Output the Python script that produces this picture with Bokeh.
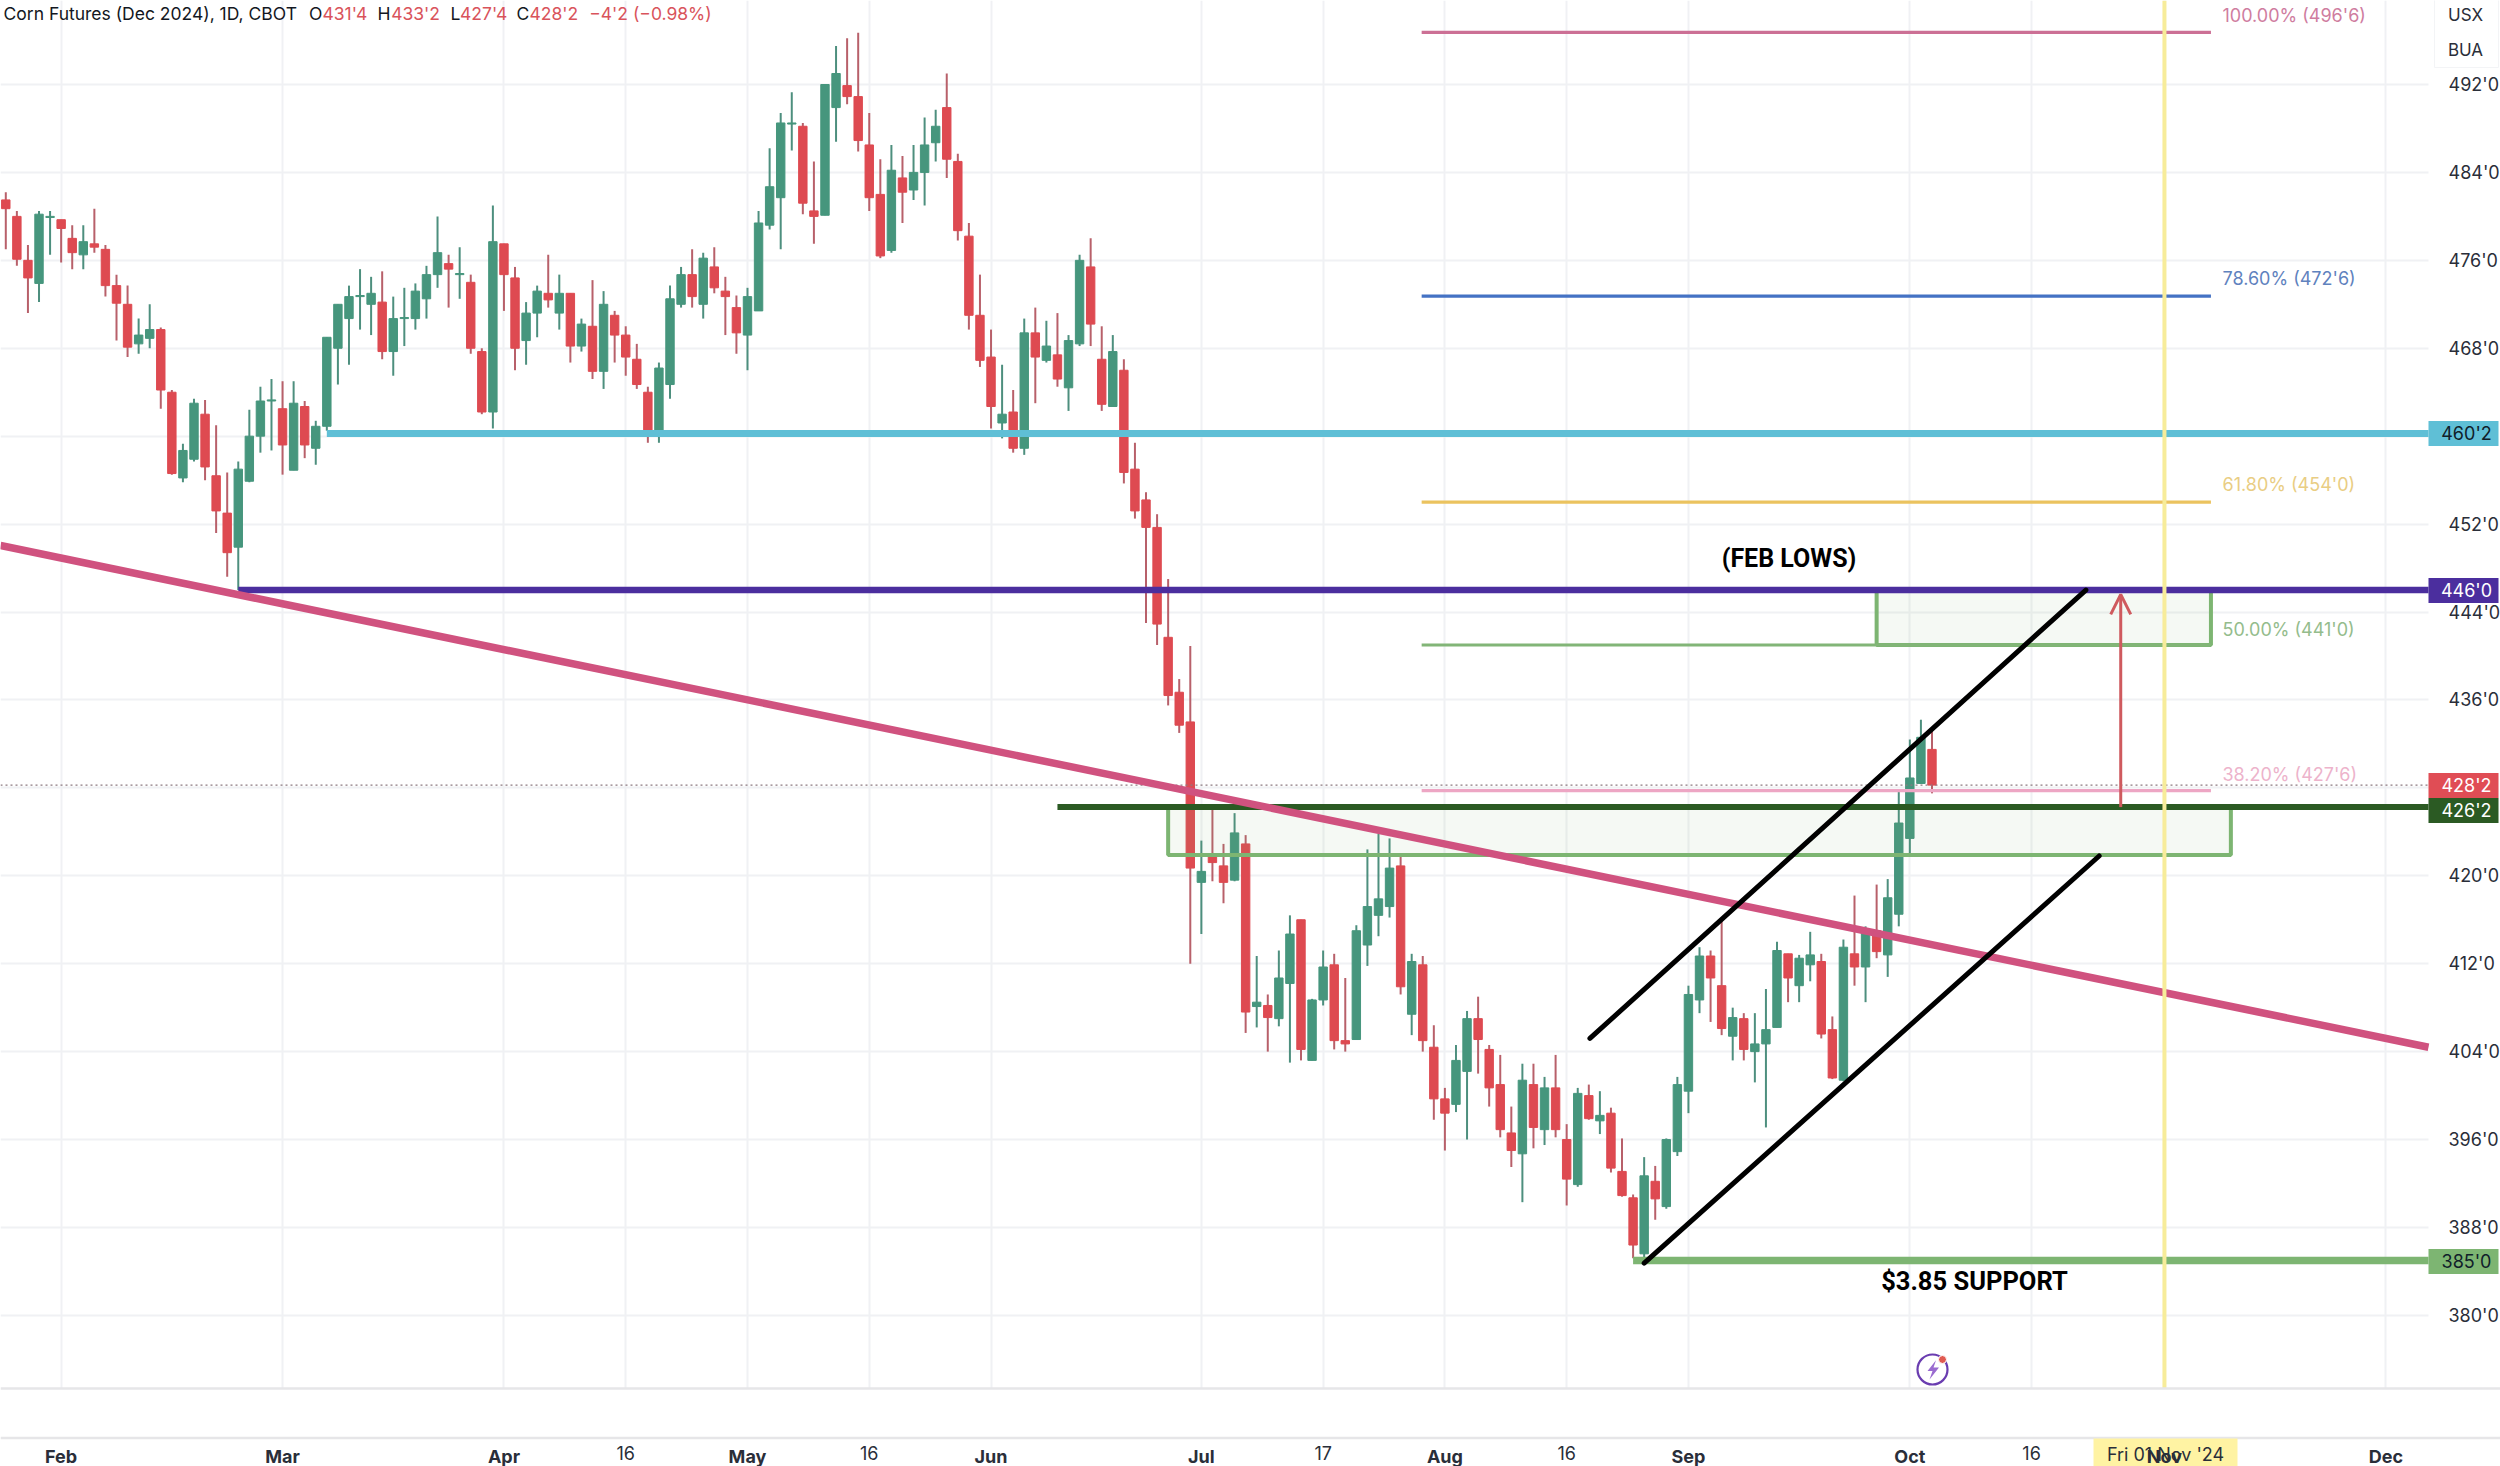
from bokeh.plotting import figure
from bokeh.embed import file_html
from bokeh.resources import INLINE
from bokeh.models import (FixedTicker, LinearAxis, BoxAnnotation, Label, Arrow, OpenHead, Range1d)

FONT = "Inter"

opens = [481.5,480.0,476.0,473.9,479.9,479.7,478.0,476.5,477.5,477.0,473.7,472.0,468.4,468.9,469.7,464.0,456.2,457.9,462.0,456.4,
453.0,449.9,455.9,460.0,463.2,462.5,456.9,462.7,458.9,460.9,468.0,470.7,472.7,472.0,472.2,467.7,470.7,470.7,472.5,474.7,
475.7,474.7,474.0,467.7,462.2,477.5,474.4,468.7,471.2,473.0,471.2,473.0,468.2,470.0,465.9,471.0,469.2,467.0,464.0,460.0,
464.7,472.0,474.7,472.0,475.4,473.2,471.7,469.2,471.4,479.2,481.7,488.4,488.2,480.5,480.1,489.9,491.9,490.9,486.5,482.0,
476.9,483.5,482.4,484.0,486.7,489.9,485.0,478.2,471.0,467.2,461.2,462.2,458.9,469.4,466.9,467.4,464.4,468.4,475.4,467.0,
462.7,466.0,457.0,454.2,451.7,441.7,436.7,434.0,419.4,421.8,420.9,419.6,422.9,408.1,408.2,407.0,410.2,416.0,403.2,408.7,
411.9,405.0,405.1,413.7,416.4,417.2,420.9,407.4,411.9,404.4,399.7,399.2,402.2,407.0,404.2,401.0,396.6,394.7,401.0,396.9,
400.7,396.0,391.9,400.0,397.7,398.4,393.1,390.7,385.6,392.2,389.9,394.9,400.4,408.7,412.7,410.0,405.4,407.0,404.0,404.7,
406.2,412.9,410.0,411.9,412.2,406.0,401.4,412.9,411.7,415.0,412.8,416.5,423.4,428.4,431.5]
highs = [482.2,480.5,477.4,480.5,480.5,479.7,479.2,479.2,480.7,477.4,474.7,473.7,470.7,472.0,469.9,464.2,459.3,463.4,463.3,461.0,
456.7,457.7,462.4,464.5,465.2,465.0,465.0,463.2,461.4,469.0,472.0,473.7,475.2,474.5,475.0,472.7,473.5,473.9,475.5,480.0,
476.5,477.2,474.7,468.0,481.0,477.5,475.4,472.2,473.7,476.5,474.7,473.0,470.7,474.2,473.2,471.4,470.0,468.4,464.5,466.7,
473.7,475.4,477.0,476.7,477.2,474.5,472.8,473.5,480.5,486.2,489.4,491.3,488.5,485.0,492.0,495.5,496.2,496.7,489.4,485.2,
486.5,485.5,486.5,489.0,489.7,493.0,485.7,479.4,474.7,469.7,466.5,464.2,470.7,471.7,470.5,471.2,469.2,476.5,478.0,470.0,
469.2,467.0,459.4,454.9,452.9,447.0,437.9,440.9,423.2,426.0,422.9,425.7,423.7,412.7,409.2,413.2,416.4,416.0,408.8,413.2,
412.9,410.7,415.5,422.4,423.8,423.4,421.8,412.9,412.7,406.4,400.7,404.6,407.7,409.0,404.6,403.7,399.0,402.9,402.9,401.7,
403.7,397.4,400.7,401.0,400.4,398.9,396.1,391.0,394.4,393.6,396.1,401.7,410.0,413.5,413.2,415.9,408.0,407.5,407.5,409.7,
414.0,412.9,412.8,414.9,412.9,407.2,414.2,418.2,415.4,419.2,419.7,427.7,432.4,434.2,433.25]
lows = [477.0,475.5,471.2,472.2,476.5,475.8,475.2,475.2,476.7,472.7,468.7,467.2,467.5,468.0,462.5,456.5,455.8,457.7,456.0,451.2,
447.2,446.0,455.8,458.5,458.7,456.5,456.9,458.0,457.4,460.5,464.7,466.5,469.7,469.2,467.0,465.5,468.2,469.7,470.7,473.5,
471.7,472.5,467.5,462.0,460.7,471.4,466.0,466.5,469.0,471.7,469.7,466.7,467.7,465.2,464.3,466.7,465.5,464.3,459.4,459.4,
463.4,471.7,471.7,470.7,473.0,469.2,467.5,466.0,471.4,478.8,477.0,486.0,480.2,477.5,480.1,486.8,490.2,485.9,480.5,476.2,
476.7,479.4,481.5,481.0,485.0,483.5,477.8,469.7,466.3,460.7,459.8,458.5,458.3,463.0,466.7,464.5,462.3,468.2,468.2,462.3,
462.7,455.7,452.5,443.0,441.0,435.5,433.0,412.0,414.7,419.5,417.5,419.5,405.7,406.2,404.0,406.3,403.0,403.2,403.2,408.2,
404.2,404.0,405.1,411.8,414.5,416.2,409.2,405.5,404.0,397.8,395.0,398.5,396.0,402.0,399.0,396.2,393.5,390.3,395.2,395.5,
396.2,390.0,391.7,397.8,396.5,393.0,390.8,385.2,384.9,388.7,389.7,394.5,398.4,407.5,406.7,405.5,403.2,403.2,401.2,397.1,
406.2,408.5,408.5,410.4,405.2,401.5,401.3,410.0,408.5,412.5,410.8,415.4,421.9,428.4,427.5]
closes = [480.7,476.1,474.4,480.2,480.0,478.9,476.7,477.7,477.2,473.7,472.1,468.1,469.2,469.7,464.2,456.6,458.7,463.0,457.2,453.2,
449.4,457.0,460.0,463.2,463.3,459.2,463.0,459.2,460.9,469.0,472.0,472.7,472.8,473.0,467.7,470.7,470.8,473.2,474.7,476.7,
475.2,474.8,468.0,462.2,477.7,474.7,468.0,471.2,473.2,472.4,473.0,468.2,470.2,465.9,472.0,469.2,467.2,464.7,460.0,466.2,
472.5,474.7,472.7,476.2,473.5,472.7,469.4,472.7,479.4,482.7,488.5,488.5,481.2,480.0,492.0,493.0,490.9,486.9,481.7,476.4,
484.2,482.2,484.0,486.5,488.2,485.2,478.7,471.0,466.9,462.7,462.0,458.9,469.4,467.2,468.2,465.2,468.7,476.0,470.2,462.9,
467.7,456.7,453.2,451.7,442.9,436.4,433.7,420.7,420.4,421.2,419.4,423.9,407.6,408.5,407.1,410.7,414.7,404.2,408.7,411.7,
405.0,404.7,415.0,417.2,417.9,420.7,409.9,412.2,405.0,399.7,398.4,403.2,407.0,405.1,400.7,396.9,395.0,401.4,397.1,400.7,
396.9,392.4,400.2,397.9,398.2,393.4,390.9,386.4,392.7,390.6,396.0,401.0,409.2,412.7,410.7,406.1,407.1,404.2,404.7,406.0,
413.2,410.7,412.5,412.8,405.6,401.6,413.5,411.7,415.0,413.1,418.0,424.8,428.9,432.6,428.25]

month_ticks = [5, 25, 45, 67, 89, 108, 130, 152, 172, 195, 215]
month_labels = ["Feb", "Mar", "Apr", "May", "Jun", "Jul", "Aug", "Sep", "Oct", "Nov", "Dec"]
day_ticks = [56, 78, 119, 141, 183]
day_labels = ["16", "16", "17", "16", "16"]
price_ticks = [380, 388, 396, 404, 412, 420, 428, 436, 444, 452, 460, 468, 476, 484, 492]
price_labels = ["380'0", "388'0", "396'0", "404'0", "412'0", "420'0", "", "436'0", "444'0", "452'0", "", "468'0", "476'0", "484'0", "492'0"]

fib_levels = [496.75, 472.75, 454.0, 441.0, 427.75]
fib_labels = ["100.00% (496'6)", "78.60% (472'6)", "61.80% (454'0)", "50.00% (441'0)", "38.20% (427'6)"]
fib_colors = ["#CC7095", "#4472C4", "#EBC35F", "#82B577", "#EDA6C4"]
fib_text_colors = ["#CF7D9F", "#5F82BE", "#E9CD83", "#94BC8C", "#EDB3CB"]

UP, DOWN = "#46967D", "#DE4A51"
UPW, DOWNW = "#4D8F7E", "#B8606A"

# pixel <-> data helpers for annotations
def X(px): return (px - 5.3) / 11.07
def Y(py): return 492 - (py - 84) / 10.99

XL, XR = X(0), X(2428)
YB = Y(1388)
p = figure(width=2500, height=1466,
           x_range=Range1d(XL, X(2500)), y_range=Range1d(Y(1466), Y(0)),
           y_axis_location="right", toolbar_location=None, output_backend="svg",
           min_border_left=0, min_border_top=0, min_border_right=0, min_border_bottom=0)
p.margin = (0, 0, 0, 0)
p.outline_line_color = None
p.background_fill_color = "white"

# axes
ax = p.xaxis[0]
ax.fixed_location = YB
ax.ticker = FixedTicker(ticks=month_ticks)
ax.major_label_overrides = dict(zip(month_ticks, month_labels))
ax.major_label_text_font = FONT
ax.major_label_text_font_size = "18px"
ax.major_label_text_font_style = "bold"
ax.major_label_text_color = "#2A2E39"
ax.major_label_standoff = 51
ax.major_tick_line_color = None
ax.minor_tick_line_color = None
ax.axis_line_color = "#E6E6E8"
ax.axis_line_width = 2.5

ax2 = LinearAxis(ticker=FixedTicker(ticks=day_ticks), fixed_location=YB,
                 major_label_overrides=dict(zip(day_ticks, day_labels)),
                 major_label_text_font=FONT, major_label_text_font_size="18px",
                 major_label_text_color="#2A2E39", major_label_standoff=51,
                 major_tick_line_color=None, minor_tick_line_color=None, axis_line_color=None)
p.add_layout(ax2, "below")

ay = p.yaxis[0]
ay.fixed_location = XR
ay.ticker = FixedTicker(ticks=price_ticks)
ay.major_label_overrides = dict(zip(price_ticks, price_labels))
ay.major_label_text_font = FONT
ay.major_label_text_font_size = "18px"
ay.major_label_text_color = "#2A2E39"
ay.major_label_standoff = 14
ay.major_tick_line_color = None
ay.minor_tick_line_color = None
ay.axis_line_color = None

p.xgrid[0].ticker = FixedTicker(ticks=sorted(month_ticks + day_ticks))
p.ygrid[0].ticker = FixedTicker(ticks=price_ticks)
p.xgrid[0].grid_line_color = "#F0F1F4"
p.ygrid[0].grid_line_color = "#F0F1F4"
p.xgrid[0].grid_line_width = 2
p.ygrid[0].grid_line_width = 2

# white masks over the axis panes, separator, date tag
p.quad(left=[XR], right=[X(2500)], top=[Y(0)], bottom=[Y(1466)], fill_color="white", line_color=None)
p.quad(left=[XL], right=[X(2500)], top=[YB], bottom=[Y(1466)], fill_color="white", line_color=None)
p.line([XL, X(2500)], [Y(1437.5), Y(1437.5)], line_color="#E6E6E8", line_width=2.5)
p.quad(left=[X(2093)], right=[X(2237)], top=[Y(1438)], bottom=[Y(1466)], fill_color="#FFF3A3", line_color=None)

# candlesticks
idx = list(range(len(opens)))
rising = [c >= o for o, c in zip(opens, closes)]
wick_col = [UPW if r else DOWNW for r in rising]
body_col = [UP if r else DOWN for r in rising]
p.segment(idx, highs, idx, lows, line_color=wick_col, line_width=2)
p.vbar(idx, 0.76, opens, closes, fill_color=body_col, line_color=body_col, line_width=1)

# zones
zone_left = [169.0, 105.0]
zone_right = [199.2, 201.0]
zone_top = [446.0, 426.25]
zone_bottom = [441.0, 421.9]
p.quad(left=zone_left, right=zone_right, top=zone_top, bottom=zone_bottom,
       fill_color="#7DB572", fill_alpha=0.08, line_color="#7DB572", line_width=4)

# fib levels
for lvl, col in zip(fib_levels, fib_colors):
    p.line([127.9, 199.2], [lvl, lvl], line_color=col, line_width=3.2)

# horizontal levels
p.line([XL, XR], [428.25, 428.25], line_color="#8C7A80", line_width=1.3, line_dash="2 3")
p.line([29, XR], [460.25, 460.25], line_color="#5FBFD6", line_width=7)
p.line([21, XR], [446.0, 446.0], line_color="#4B2E9E", line_width=6.5)
p.line([95, XR], [426.25, 426.25], line_color="#2B5A23", line_width=6)
p.line([147, XR], [385.0, 385.0], line_color="#7DB572", line_width=7.5)

# trend and channel
p.line([XL, XR], [450.05, 404.4], line_color="#D0527F", line_width=7.5)
p.line([143.1, 187.9], [405.2, 446.0], line_color="black", line_width=5, line_cap="round")
p.line([148.0, 189.1], [384.75, 421.8], line_color="black", line_width=5, line_cap="round")

# arrow
p.add_layout(Arrow(x_start=191.05, y_start=426.25, x_end=191.05, y_end=445.6,
                   line_color="#CF5A5E", line_width=3,
                   end=OpenHead(size=20, line_color="#CF5A5E", line_width=3)))

# crosshair-like yellow line
p.line([195.0, 195.0], [YB, Y(0)], line_color="#F7EC9A", line_width=4)

# lightning icon
p.scatter([X(1932)], [Y(1369)], size=30, marker="circle", fill_color=None, line_color="#6A3DB0", line_width=2.2)
p.scatter([X(1942)], [Y(1359)], size=8, marker="circle", fill_color="#E05A50", line_color="white", line_width=1)
p.patch([X(1932 + d) for d in (3.5, -5, 0, -3, 6.5, 1)],
        [Y(1369 + d) for d in (-9.3, 1.5, 1.5, 10, -2, -2)], fill_color="#9A6BD0", line_color=None)

def txt(px, py, s, color="#2A2E39", size="18px", align="left", style="normal", font=FONT):
    p.add_layout(Label(x=X(px), y=Y(py), text=s, text_color=color, text_font_size=size, text_align=align,
                       text_baseline="middle", text_font=font, text_font_style=style))

def box(l, r, t, b, color, line=None):
    p.add_layout(BoxAnnotation(left=X(l), right=X(r), top=Y(t), bottom=Y(b), fill_color=color, fill_alpha=1,
                               line_color=line, line_alpha=1 if line else 0))

txt(2165, 1454, "Fri 01 Nov '24", size="18px", align="center")

# fib labels
for py, s, c in zip([15, 278, 484, 629, 774], fib_labels, fib_text_colors):
    txt(2222, py, s, color=c, size="18px")

# notes
txt(1788.5, 558, "(FEB LOWS)", color="black", size="25px", align="center", style="bold", font="Roboto")
txt(1974, 1280, "$3.85 SUPPORT", color="black", size="25.5px", align="center", style="bold", font="Roboto")

# price tags
tags = [(433, "460'2", "#5FBFD6", "#10202a"), (590, "446'0", "#4B2E9E", "white"), (785, "428'2", "#E04D55", "white"),
        (810, "426'2", "#2B5A23", "white"), (1261, "385'0", "#7DB572", "#10202a")]
for py, s, c, tc in tags:
    box(2428, 2498, py - 12.5, py + 12.5, c)
    txt(2466, py, s, color=tc, size="18px", align="center")

# buttons
box(2434, 2498, -2, 67, "white", line="#F3F4F6")
txt(2465, 14, "USX", size="17px", align="center")
txt(2465, 49, "BUA", size="17px", align="center")

# legend line
RED = "#D9535B"
txt(3, 13, "Corn Futures (Dec 2024), 1D, CBOT", size="17.5px", color="#131722")
for px, s, c in [(308.6, "O", "#131722"), (322, "431'4", RED), (377, "H", "#131722"), (390.7, "433'2", RED),
                 (450, "L", "#131722"), (459.5, "427'4", RED), (516, "C", "#131722"), (529, "428'2", RED),
                 (588.7, "\u22124'2 (\u22120.98%)", RED)]:
    txt(px, 13, s, color=c, size="17.5px")

open("out.html", "w").write(file_html(p, INLINE))
